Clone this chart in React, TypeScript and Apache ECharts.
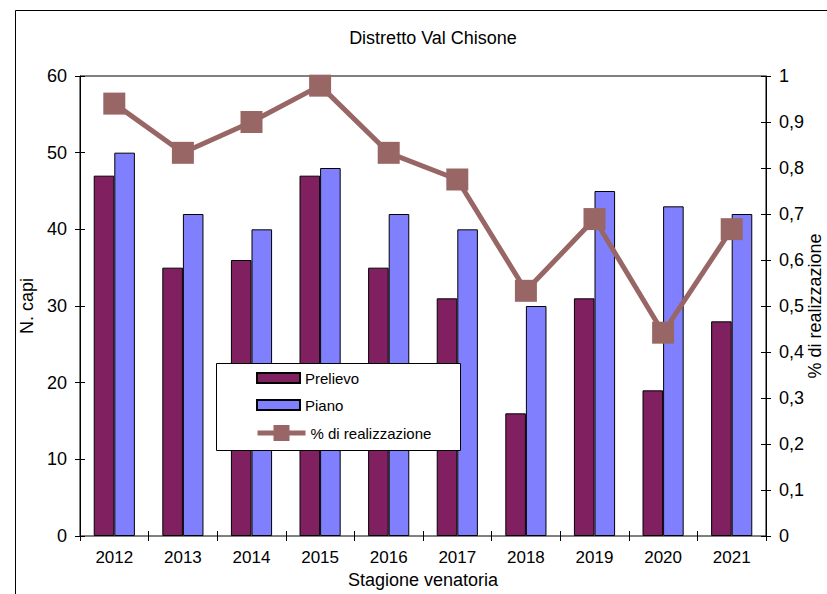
import React, { useEffect, useRef } from 'react';
import * as echarts from 'echarts';

const seasons = ['2012', '2013', '2014', '2015', '2016', '2017', '2018', '2019', '2020', '2021'];
const prelievo = [47, 35, 36, 47, 35, 31, 16, 31, 19, 28];
const piano = [50, 42, 40, 48, 42, 40, 30, 45, 43, 42];
const realizzazione = [0.94, 0.833, 0.9, 0.979, 0.833, 0.775, 0.533, 0.689, 0.442, 0.667];

const leftMin = 0;
const leftMax = 60;
const leftStep = 10;
const rightMin = 0;
const rightMax = 1;
const rightStep = 0.1;

const FONT = '"Liberation Sans", Arial, sans-serif';

export default function App() {
  const ref = useRef<HTMLDivElement>(null);
  useEffect(() => {
    if (!ref.current) return;
    const chart = echarts.init(ref.current, undefined, { renderer: 'svg' });
    const tickCross = (inside: boolean) => ({ show: true, inside, length: 5, lineStyle: { color: '#000', width: 1 } });
    const option: any = {
      animation: false,
      backgroundColor: '#fff',
      textStyle: { fontFamily: FONT, color: '#000' },
      title: {
        text: 'Distretto Val Chisone',
        left: 433,
        top: 29,
        padding: 0,
        textAlign: 'center',
        textStyle: { fontSize: 18, fontWeight: 'normal', color: '#000', fontFamily: FONT },
      },
      grid: {
        left: 80,
        right: 61,
        top: 76,
        bottom: 58,
        show: true,
        borderColor: '#000',
        borderWidth: 1,
        containLabel: false,
        outerBoundsMode: 'none',
      },
      legend: [
        {
          data: ['Prelievo', 'Piano'],
          orient: 'vertical',
          left: 256,
          top: 369,
          padding: 0,
          itemWidth: 43,
          itemHeight: 10,
          itemGap: 9,
          icon: 'rect',
          z: 20,
          textStyle: { fontSize: 15, lineHeight: 18, color: '#000', fontFamily: FONT },
        },
        {
          data: [{ name: '% di realizzazione', lineStyle: { width: 5 } }],
          orient: 'vertical',
          left: 255,
          top: 423,
          padding: 0,
          itemWidth: 48,
          itemHeight: 20,
          z: 20,
          textStyle: { fontSize: 15, lineHeight: 20, color: '#000', fontFamily: FONT },
        },
      ],
      xAxis: [
        {
          type: 'category',
          data: seasons,
          axisLine: { show: true, lineStyle: { color: '#808080', width: 1 } },
          axisTick: tickCross(false),
          axisLabel: { fontSize: 17, margin: 13, color: '#000', fontFamily: FONT },
          name: 'Stagione venatoria',
          nameLocation: 'middle',
          nameGap: 32,
          nameTextStyle: { fontSize: 18, color: '#000', fontFamily: FONT },
          splitLine: { show: false },
        },
        {
          type: 'category',
          data: seasons,
          position: 'bottom',
          axisLine: { show: false },
          axisTick: tickCross(true),
          axisLabel: { show: false },
          splitLine: { show: false },
        },
      ],
      yAxis: [
        {
          type: 'value',
          position: 'left',
          min: leftMin,
          max: leftMax,
          interval: leftStep,
          axisLine: { show: true, lineStyle: { color: '#000', width: 1 } },
          axisTick: tickCross(false),
          axisLabel: { fontSize: 18, margin: 13, color: '#000', fontFamily: FONT },
          splitLine: { show: false },
          name: 'N. capi',
          nameLocation: 'middle',
          nameGap: 36,
          nameRotate: 90,
          nameTextStyle: { fontSize: 18, color: '#000', fontFamily: FONT },
        },
        {
          type: 'value',
          position: 'right',
          min: rightMin,
          max: rightMax,
          interval: rightStep,
          axisLine: { show: true, lineStyle: { color: '#000', width: 1 } },
          axisTick: tickCross(false),
          axisLabel: {
            fontSize: 18,
            margin: 13,
            color: '#000',
            fontFamily: FONT,
            formatter: (v: number) => String(+v.toFixed(1)).replace('.', ','),
          },
          splitLine: { show: false },
          name: '% di realizzazione',
          nameLocation: 'middle',
          nameGap: 40,
          nameRotate: 90,
          nameMoveOverlap: false,
          nameTextStyle: { fontSize: 18, color: '#000', fontFamily: FONT },
        },
        {
          type: 'value',
          position: 'left',
          min: leftMin,
          max: leftMax,
          interval: leftStep,
          axisLine: { show: false },
          axisTick: tickCross(true),
          axisLabel: { show: false },
          splitLine: { show: false },
        },
        {
          type: 'value',
          position: 'right',
          min: rightMin,
          max: rightMax,
          interval: rightStep,
          axisLine: { show: false },
          axisTick: tickCross(true),
          axisLabel: { show: false },
          splitLine: { show: false },
        },
      ],
      graphic: [
        {
          type: 'rect',
          z: 0,
          silent: true,
          shape: { x: 15.5, y: 10.5, width: 900, height: 700 },
          style: { fill: 'none', stroke: '#000', lineWidth: 1 },
        },
        {
          type: 'rect',
          z: 10,
          silent: true,
          shape: { x: 216.5, y: 363.5, width: 244, height: 87 },
          style: { fill: '#fff', stroke: '#000', lineWidth: 1 },
        },
      ],
      series: [
        {
          name: 'Prelievo',
          type: 'bar',
          xAxisIndex: 0,
          yAxisIndex: 0,
          data: prelievo,
          barGap: '0%',
          barCategoryGap: '40%',
          itemStyle: { color: '#802060', borderColor: '#000', borderWidth: 1 },
        },
        {
          name: 'Piano',
          type: 'bar',
          xAxisIndex: 0,
          yAxisIndex: 0,
          data: piano,
          barGap: '0%',
          barCategoryGap: '40%',
          itemStyle: { color: '#8080FF', borderColor: '#000', borderWidth: 1 },
        },
        {
          name: '% di realizzazione',
          type: 'line',
          xAxisIndex: 0,
          yAxisIndex: 1,
          data: realizzazione,
          symbol: 'rect',
          symbolSize: 22,
          z: 5,
          lineStyle: { color: '#996666', width: 5 },
          itemStyle: { color: '#996666' },
        },
      ],
    };
    chart.setOption(option);
    return () => chart.dispose();
  }, []);
  return (
    <div
      ref={ref}
      style={{ position: 'fixed', left: 0, top: 0, width: 827, height: 594 }}
    />
  );
}
